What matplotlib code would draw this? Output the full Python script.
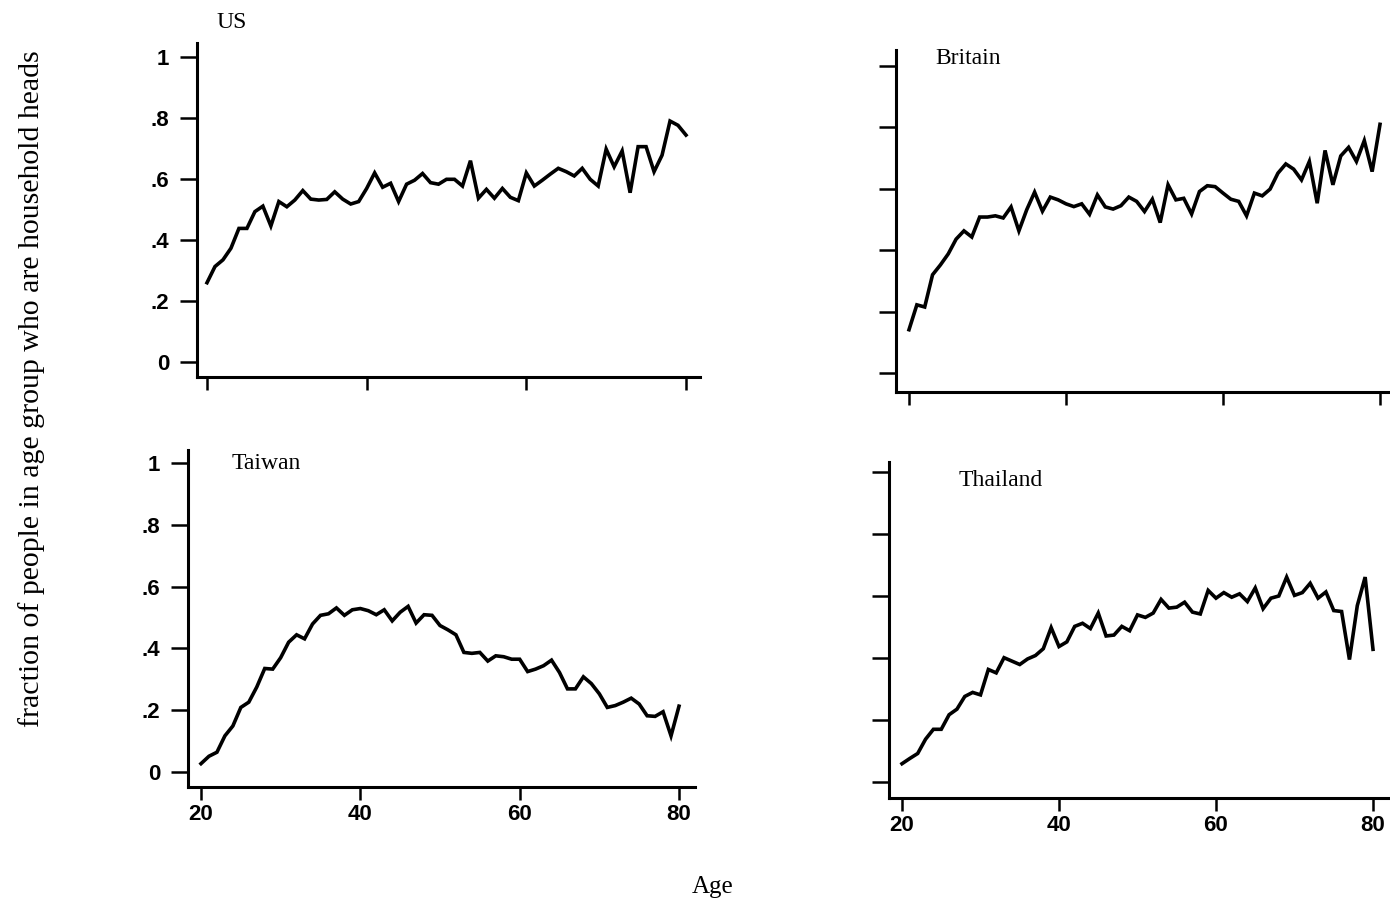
import numpy as np
import matplotlib.pyplot as plt

# fraction of people in each age group who are household heads, ages 20..80
ages = np.arange(20, 81)

us = [0.26, 0.313, 0.335, 0.373, 0.438, 0.438, 0.493, 0.511, 0.446, 0.526,
      0.509, 0.531, 0.562, 0.534, 0.531, 0.533, 0.558, 0.534, 0.518, 0.526,
      0.569, 0.62, 0.573, 0.586, 0.526, 0.583, 0.596, 0.618, 0.588, 0.583,
      0.599, 0.599, 0.577, 0.66, 0.537, 0.566, 0.537, 0.569, 0.54, 0.529,
      0.62, 0.577, 0.596, 0.616, 0.635, 0.624, 0.61, 0.635, 0.599, 0.577,
      0.698, 0.64, 0.692, 0.555, 0.706, 0.706, 0.624, 0.678, 0.79, 0.776,
      0.744]

britain = [0.141, 0.222, 0.215, 0.32, 0.352, 0.388, 0.436, 0.463, 0.443, 0.508,
           0.508, 0.512, 0.505, 0.541, 0.463, 0.532, 0.589, 0.527, 0.573, 0.564,
           0.551, 0.542, 0.551, 0.517, 0.58, 0.541, 0.534, 0.545, 0.573, 0.559,
           0.526, 0.566, 0.49, 0.613, 0.564, 0.569, 0.518, 0.591, 0.61, 0.607,
           0.586, 0.566, 0.559, 0.512, 0.586, 0.577, 0.599, 0.651, 0.681, 0.664,
           0.629, 0.689, 0.553, 0.725, 0.613, 0.707, 0.735, 0.689, 0.757, 0.656,
           0.81]

taiwan = [0.027, 0.051, 0.064, 0.117, 0.149, 0.209, 0.226, 0.275, 0.335, 0.333,
          0.37, 0.42, 0.444, 0.431, 0.479, 0.507, 0.512, 0.531, 0.507, 0.525,
          0.529, 0.522, 0.509, 0.525, 0.489, 0.517, 0.536, 0.482, 0.509, 0.507,
          0.474, 0.46, 0.444, 0.387, 0.384, 0.387, 0.359, 0.376, 0.373, 0.365,
          0.365, 0.325, 0.333, 0.344, 0.362, 0.322, 0.269, 0.269, 0.308, 0.286,
          0.253, 0.209, 0.215, 0.226, 0.239, 0.22, 0.182, 0.18, 0.195, 0.117,
          0.213]

thailand = [0.059, 0.076, 0.092, 0.138, 0.17, 0.17, 0.217, 0.235, 0.276, 0.289,
            0.281, 0.363, 0.352, 0.401, 0.39, 0.379, 0.397, 0.408, 0.43, 0.498,
            0.437, 0.452, 0.502, 0.512, 0.495, 0.545, 0.471, 0.474, 0.502, 0.488,
            0.539, 0.531, 0.545, 0.589, 0.561, 0.564, 0.58, 0.548, 0.542, 0.618,
            0.593, 0.611, 0.596, 0.607, 0.582, 0.626, 0.559, 0.593, 0.6, 0.661,
            0.602, 0.611, 0.641, 0.593, 0.613, 0.553, 0.55, 0.395, 0.569, 0.661,
            0.428]

y_ticks = [0, 0.2, 0.4, 0.6, 0.8, 1]
y_tick_labels = ["0", ".2", ".4", ".6", ".8", "1"]
x_ticks = [20, 40, 60, 80]
x_tick_labels = ["20", "40", "60", "80"]

W, H = 1390, 906
fig = plt.figure(figsize=(W / 100, H / 100), dpi=100)

SERIF = "Liberation Serif"
SANS = "Liberation Sans"


def panel(box, xref, yref, series, title, title_xy, left_labels, bottom_labels):
    """box = (left, top, right, bottom) in pixels from the top-left corner,
    xref = pixel x of age 20 and age 80, yref = pixel y of 0 and 1"""
    l, t, r, b = box
    ax = fig.add_axes([l / W, 1 - b / H, (r - l) / W, (b - t) / H])
    ppy = (xref[1] - xref[0]) / 60.0
    ax.set_xlim(20 - (xref[0] - l) / ppy, 20 + (r - xref[0]) / ppy)
    ppu = float(yref[0] - yref[1])
    ax.set_ylim(-(b - yref[0]) / ppu, (yref[0] - t) / ppu)

    ax.plot(ages, series, color="black", lw=2.6, solid_joinstyle="miter")

    for s in ["top", "right"]:
        ax.spines[s].set_visible(False)
    for s in ["left", "bottom"]:
        ax.spines[s].set_linewidth(2.2)
    ax.patch.set_visible(False)

    ax.set_yticks(y_ticks)
    ax.set_xticks(x_ticks)
    ax.tick_params(axis="y", direction="out", length=12, width=1.8, pad=8,
                   labelleft=left_labels)
    ax.tick_params(axis="x", direction="out", length=9, width=1.8, pad=3,
                   labelbottom=bottom_labels)
    if left_labels:
        ax.set_yticklabels(y_tick_labels, fontfamily=SANS, fontweight="bold", fontsize=16)
    if bottom_labels:
        ax.set_xticklabels(x_tick_labels, fontfamily=SANS, fontweight="bold", fontsize=16)

    fig.text(title_xy[0] / W, 1 - title_xy[1] / H, title, fontfamily=SERIF,
             fontsize=17, ha="center", va="center")
    return ax


panel((197, 43, 700, 377), (207, 686), (362, 57), us, "US", (232, 23), True, False)
panel((896, 50, 1400, 392), (909, 1380), (373, 66), britain, "Britain", (968, 58), False, False)
panel((188, 450, 695, 787), (201, 679), (772, 463), taiwan, "Taiwan", (266, 464), True, True)
panel((889, 462, 1400, 798), (902, 1373), (782, 472), thailand, "Thailand", (1001, 480), False, True)

fig.text(32 / W, 1 - 389 / H, "fraction of people in age group who are household heads",
         fontfamily=SERIF, fontsize=21.5, rotation=90, ha="center", va="center")
fig.text(713 / W, 1 - 887 / H, "Age", fontfamily=SERIF, fontsize=18,
         ha="center", va="center")

fig.savefig("out.png", dpi=100, facecolor="white")
